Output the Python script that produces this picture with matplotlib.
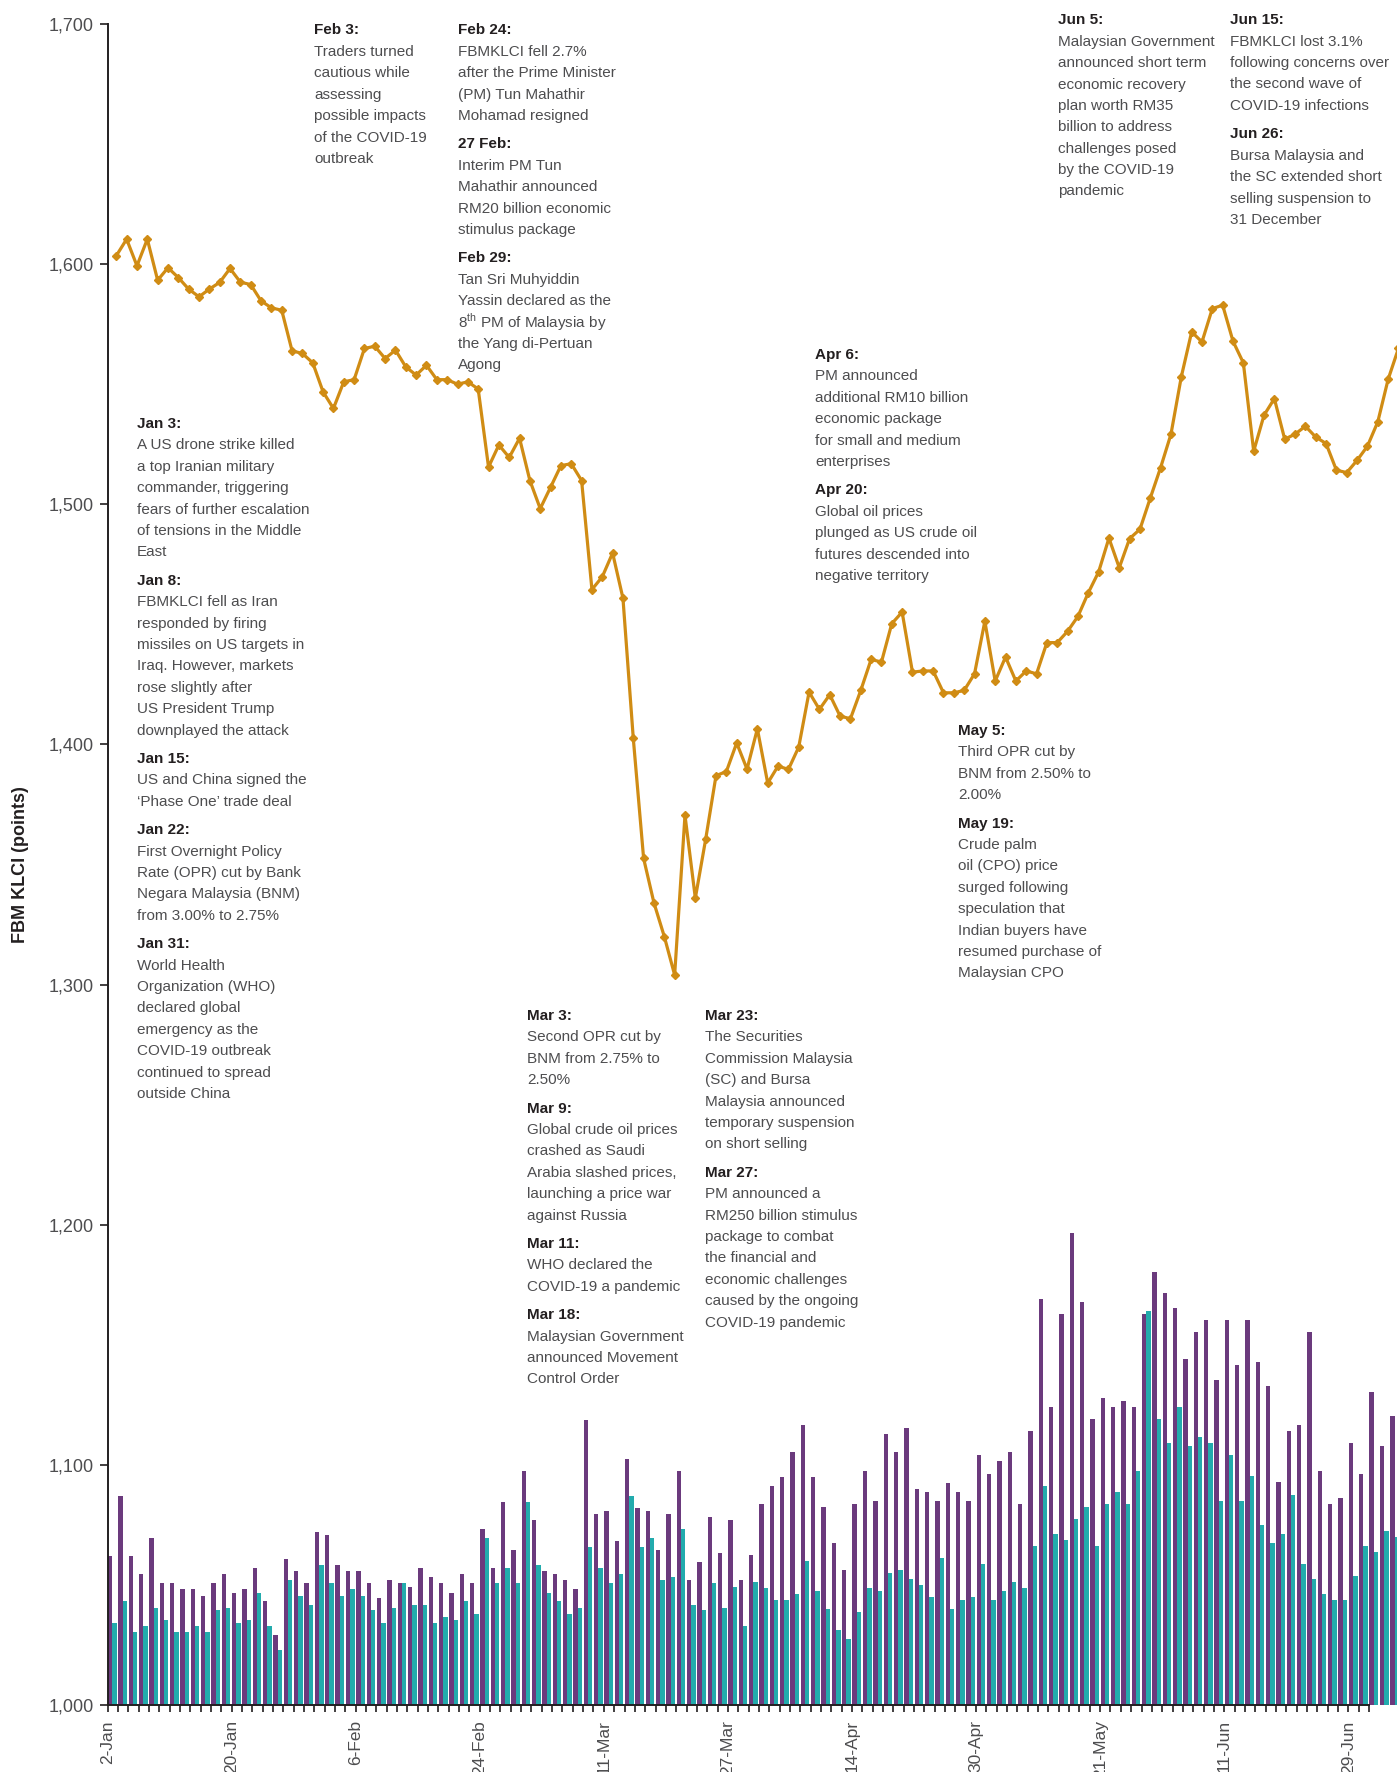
import numpy as np
import matplotlib
matplotlib.use("Agg")
import matplotlib.pyplot as plt
from matplotlib.ticker import FixedLocator, FuncFormatter

plt.rcParams['font.family'] = ['Liberation Sans', 'DejaVu Sans']
plt.rcParams['mathtext.fontset'] = 'custom'
plt.rcParams['mathtext.rm'] = 'Liberation Sans'

# FBM KLCI closing level, one value per trading day from 2-Jan
klci = [1603.5, 1610.4, 1599.3, 1610.4, 1593.3, 1598.5, 1594.4, 1589.6, 1586.4, 1589.6,
        1592.4, 1598.2, 1592.5, 1591.5, 1584.7, 1581.8, 1580.8, 1563.9, 1562.8, 1558.9,
        1546.8, 1539.9, 1551.0, 1551.9, 1564.9, 1565.8, 1560.7, 1564.2, 1557.2, 1553.8,
        1557.9, 1551.9, 1551.9, 1550.0, 1551.0, 1548.0, 1515.5, 1524.7, 1519.5, 1527.5,
        1509.9, 1498.2, 1507.1, 1516.1, 1516.9, 1509.9, 1464.5, 1469.8, 1479.7, 1460.9,
        1402.5, 1352.5, 1334.0, 1320.0, 1304.0, 1370.5, 1336.0, 1360.5, 1387.0, 1388.7,
        1400.6, 1389.7, 1406.5, 1383.9, 1391.0, 1389.6, 1398.9, 1421.8, 1414.6, 1420.7,
        1411.8, 1410.7, 1422.5, 1435.4, 1434.3, 1450.3, 1455.1, 1430.1, 1430.6, 1430.6,
        1421.5, 1421.5, 1422.5, 1429.4, 1451.3, 1426.4, 1436.4, 1426.4, 1430.6, 1429.4,
        1442.4, 1442.4, 1447.1, 1453.3, 1463.1, 1471.8, 1485.9, 1473.6, 1485.7, 1489.6,
        1502.6, 1515.3, 1529.2, 1553.1, 1571.8, 1567.6, 1581.5, 1582.9, 1567.9, 1558.9,
        1522.1, 1537.1, 1544.0, 1527.1, 1529.2, 1532.5, 1528.0, 1525.3, 1514.2, 1513.2,
        1518.3, 1524.2, 1534.3, 1552.0, 1564.9]

# daily trading (secondary, unlabelled scale)
purple = [62.1, 87.2, 62.1, 54.5, 69.5, 50.6, 50.6, 48.1, 48.1, 45.5,
          50.6, 54.5, 46.8, 48.1, 56.9, 43.1, 29.3, 60.6, 55.6, 50.6,
          72.1, 70.8, 58.2, 55.6, 55.6, 50.6, 44.4, 51.9, 50.6, 49.3,
          56.9, 53.2, 50.6, 46.8, 54.5, 50.6, 73.3, 56.9, 84.6, 64.5,
          97.3, 77.0, 55.6, 54.5, 51.9, 48.1, 118.7, 79.6, 80.7, 68.2,
          102.3, 82.0, 80.7, 64.5, 79.6, 97.3, 51.9, 59.5, 78.3, 63.4,
          77.0, 51.9, 62.5, 83.8, 91.2, 95.0, 105.3, 116.5, 95.0, 82.5,
          67.5, 56.3, 83.8, 97.6, 85.0, 112.7, 105.3, 115.2, 90.0, 88.8,
          85.0, 92.5, 88.8, 85.0, 104.0, 96.4, 101.4, 105.3, 83.8, 114.0,
          169.0, 124.1, 163.0, 196.7, 167.9, 118.9, 127.8, 124.1, 126.6, 124.1,
          163.0, 180.5, 171.7, 165.5, 144.0, 155.3, 160.5, 135.3, 160.5, 141.5,
          160.5, 142.7, 132.8, 92.7, 114.0, 116.5, 155.3, 97.6, 83.8, 86.3,
          109.0, 96.4, 130.3, 107.8, 120.2]
teal = [34.3, 43.1, 30.5, 33.0, 40.5, 35.5, 30.5, 30.5, 33.0, 30.5,
        39.4, 40.5, 34.3, 35.5, 46.8, 33.0, 23.0, 51.9, 45.5, 41.8,
        58.2, 50.6, 45.5, 48.1, 45.5, 39.4, 34.3, 40.5, 50.6, 41.8,
        41.8, 34.3, 36.8, 35.5, 43.1, 38.1, 69.5, 50.6, 56.9, 50.6,
        84.6, 58.2, 46.8, 43.1, 38.1, 40.5, 65.7, 56.9, 50.6, 54.5,
        87.2, 65.7, 69.5, 51.9, 53.2, 73.3, 41.8, 39.4, 50.6, 40.5,
        49.3, 33.0, 51.1, 48.8, 43.8, 43.8, 46.2, 60.0, 47.4, 39.9,
        31.1, 27.3, 38.7, 48.6, 47.4, 55.0, 56.3, 52.4, 50.1, 44.9,
        61.2, 39.9, 43.8, 44.9, 58.8, 43.8, 47.4, 51.1, 48.6, 66.2,
        91.2, 71.2, 68.7, 77.6, 82.5, 66.2, 83.8, 88.8, 83.8, 97.6,
        164.2, 118.9, 109.0, 124.1, 107.8, 111.5, 109.0, 85.0, 104.0, 85.0,
        95.2, 75.1, 67.5, 71.2, 87.5, 58.8, 52.4, 46.2, 43.8, 43.8,
        53.8, 66.2, 63.7, 72.4, 70.0]

tick_labels = ['2-Jan', '20-Jan', '6-Feb', '24-Feb', '11-Mar', '27-Mar',
               '14-Apr', '30-Apr', '21-May', '11-Jun', '29-Jun']
label_pos = [0, 12, 24, 36, 48, 60, 72, 84, 96, 108, 120]
n_ticks = 123  # category boundaries 2-Jan .. 30-Jun

notes_jan = [("Jan 3:", ["A US drone strike killed", "a top Iranian military",
                         "commander, triggering", "fears of further escalation",
                         "of tensions in the Middle", "East"]),
             ("Jan 8:", ["FBMKLCI fell as Iran", "responded by firing",
                         "missiles on US targets in", "Iraq. However, markets",
                         "rose slightly after", "US President Trump",
                         "downplayed the attack"]),
             ("Jan 15:", ["US and China signed the", "\u2018Phase One\u2019 trade deal"]),
             ("Jan 22:", ["First Overnight Policy", "Rate (OPR) cut by Bank",
                          "Negara Malaysia (BNM)", "from 3.00% to 2.75%"]),
             ("Jan 31:", ["World Health", "Organization (WHO)", "declared global",
                          "emergency as the", "COVID-19 outbreak",
                          "continued to spread", "outside China"])]
notes_feb3 = [("Feb 3:", ["Traders turned", "cautious while", "assessing",
                          "possible impacts", "of the COVID-19", "outbreak"])]
notes_feb = [("Feb 24:", ["FBMKLCI fell 2.7%", "after the Prime Minister",
                          "(PM) Tun Mahathir", "Mohamad resigned"]),
             ("27 Feb:", ["Interim PM Tun", "Mahathir announced",
                          "RM20 billion economic", "stimulus package"]),
             ("Feb 29:", ["Tan Sri Muhyiddin", "Yassin declared as the",
                          "8$^{\\mathrm{th}}$ PM of Malaysia by", "the Yang di-Pertuan",
                          "Agong"])]
notes_apr = [("Apr 6:", ["PM announced", "additional RM10 billion",
                         "economic package", "for small and medium", "enterprises"]),
             ("Apr 20:", ["Global oil prices", "plunged as US crude oil",
                          "futures descended into", "negative territory"])]
notes_jun5 = [("Jun 5:", ["Malaysian Government", "announced short term",
                          "economic recovery", "plan worth RM35",
                          "billion to address", "challenges posed",
                          "by the COVID-19", "pandemic"])]
notes_jun = [("Jun 15:", ["FBMKLCI lost 3.1%", "following concerns over",
                          "the second wave of", "COVID-19 infections"]),
             ("Jun 26:", ["Bursa Malaysia and", "the SC extended short",
                          "selling suspension to", "31 December"])]
notes_may = [("May 5:", ["Third OPR cut by", "BNM from 2.50% to", "2.00%"]),
             ("May 19:", ["Crude palm", "oil (CPO) price", "surged following",
                          "speculation that", "Indian buyers have",
                          "resumed purchase of", "Malaysian CPO"])]
notes_mar = [("Mar 3:", ["Second OPR cut by", "BNM from 2.75% to", "2.50%"]),
             ("Mar 9:", ["Global crude oil prices", "crashed as Saudi",
                         "Arabia slashed prices,", "launching a price war",
                         "against Russia"]),
             ("Mar 11:", ["WHO declared the", "COVID-19 a pandemic"]),
             ("Mar 18:", ["Malaysian Government", "announced Movement",
                          "Control Order"])]
notes_mar2 = [("Mar 23:", ["The Securities", "Commission Malaysia",
                           "(SC) and Bursa", "Malaysia announced",
                           "temporary suspension", "on short selling"]),
              ("Mar 27:", ["PM announced a", "RM250 billion stimulus",
                           "package to combat", "the financial and",
                           "economic challenges", "caused by the ongoing",
                           "COVID-19 pandemic"])]

W, H = 1397, 1772
GOLD = '#D08C14'
PURPLE = '#6B3A7D'
TEAL = '#22ABAD'
DARK = '#231F20'
GREY = '#4D4D4F'

fig = plt.figure(figsize=(W / 100, H / 100), dpi=100)
x0, y_top, y_bot = 107.5, 24, 1705
ax = fig.add_axes([x0 / W, 1 - y_bot / H, (W - x0) / W, (y_bot - y_top) / H])
ax2 = ax.twinx()
ax.set_zorder(ax2.get_zorder() + 1)
ax.patch.set_visible(False)

cats = np.arange(len(purple))
ax2.bar(cats + 0.26, purple, width=0.42, color=PURPLE, linewidth=0)
ax2.bar(cats + 0.68, teal, width=0.42, color=TEAL, linewidth=0)
ax2.set_ylim(0, 700)
ax2.axis('off')

days = np.arange(len(klci))
ax.plot(days + 0.85, klci, color=GOLD, lw=2.3, marker='D', ms=4.4,
        mfc=GOLD, mec=GOLD, zorder=3)

xmax = (W - x0) / 10.34
ax.set_xlim(0, xmax)
ax2.set_xlim(0, xmax)
ax.set_ylim(1000, 1700)

for s in ['top', 'right']:
    ax.spines[s].set_visible(False)
for s in ['left', 'bottom']:
    ax.spines[s].set_color(DARK)
    ax.spines[s].set_linewidth(1.4)
ax.spines['bottom'].set_bounds(0, n_ticks - 1)

ax.yaxis.set_major_locator(FixedLocator(np.arange(1000, 1701, 100)))
ax.yaxis.set_major_formatter(FuncFormatter(lambda v, p: f"{v:,.0f}"))
ax.tick_params(axis='y', length=6, width=1.2, color=DARK, labelsize=13,
               labelcolor=GREY, pad=4)

ax.xaxis.set_major_locator(FixedLocator(label_pos))
ax.set_xticklabels(tick_labels, rotation=90, va='top', ha='center')
ax.xaxis.set_minor_locator(FixedLocator(np.arange(n_ticks)))
ax.tick_params(axis='x', which='both', length=5, width=1.2, color=DARK,
               labelsize=12.5, labelcolor=GREY, pad=6)

ax.set_ylabel("FBM KLCI (points)", fontsize=13, fontweight='bold', color=DARK)
ax.yaxis.set_label_coords(-0.0605, 0.5)

STEP, GAP = 21.4, 7.0


def put_notes(x, y, blocks):
    for head, body in blocks:
        fig.text(x / W, 1 - y / H, head, fontsize=11, fontweight='bold',
                 color=DARK, va='center')
        y += STEP
        for line in body:
            fig.text(x / W, 1 - y / H, line, fontsize=11, color=GREY, va='center')
            y += STEP
        y += GAP


put_notes(137, 424, notes_jan)
put_notes(314, 30.5, notes_feb3)
put_notes(458, 30.5, notes_feb)
put_notes(815, 355, notes_apr)
put_notes(1058, 20.3, notes_jun5)
put_notes(1230, 20.3, notes_jun)
put_notes(958.5, 731, notes_may)
put_notes(527, 1016, notes_mar)
put_notes(705, 1016, notes_mar2)

fig.savefig("out.png", dpi=100)
